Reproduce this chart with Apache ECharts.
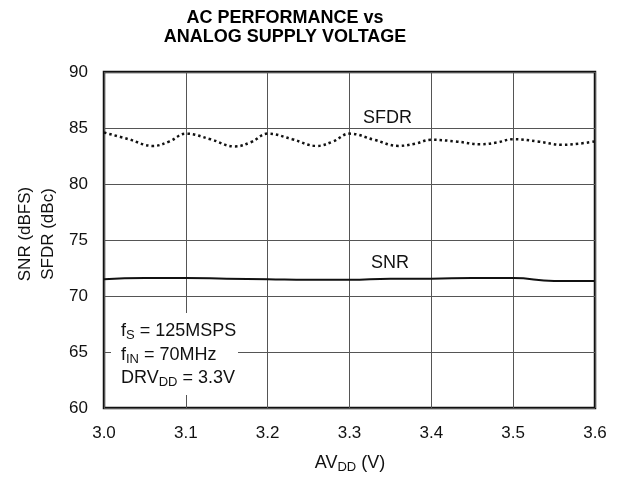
<!DOCTYPE html>
<html>
<head>
<meta charset="utf-8">
<script src="https://cdn.jsdelivr.net/npm/echarts@6/dist/echarts.min.js"></script>
<style>html,body{margin:0;padding:0;background:#fff}#c{width:619px;height:479px}</style>
</head>
<body>
<div id="c"></div>
<script>
// Data
const xTicks = [3.0, 3.1, 3.2, 3.3, 3.4, 3.5, 3.6];
const yTicks = [60, 65, 70, 75, 80, 85, 90];
const sfdrX = [3.00, 3.03, 3.06, 3.08, 3.10, 3.13, 3.16, 3.18, 3.20, 3.23, 3.26, 3.28, 3.30, 3.33, 3.36, 3.38, 3.40, 3.43, 3.46, 3.48, 3.50, 3.53, 3.56, 3.58, 3.60];
const sfdrY = [84.6, 84.0, 83.4, 83.8, 84.5, 84.0, 83.35, 83.75, 84.5, 84.0, 83.4, 83.8, 84.5, 83.95, 83.4, 83.6, 83.95, 83.8, 83.55, 83.7, 84.0, 83.8, 83.5, 83.6, 83.8];
const snrX = [3.00, 3.05, 3.10, 3.15, 3.20, 3.25, 3.30, 3.35, 3.40, 3.45, 3.50, 3.55, 3.60];
const snrY = [71.5, 71.6, 71.6, 71.55, 71.5, 71.45, 71.45, 71.55, 71.55, 71.6, 71.6, 71.35, 71.35];

const FONT = '"Liberation Sans", Arial, Helvetica, sans-serif';
const chart = echarts.init(document.getElementById('c'));
const sub = { fontSize: 13, fontFamily: FONT, color: '#111', padding: [8, 0, 0, 0] };

chart.setOption({
  animation: false,
  backgroundColor: '#fff',
  grid: { left: 104, right: 24, top: 72, bottom: 71, show: true, borderColor: '#111', borderWidth: 2.5, backgroundColor: 'transparent' },
  xAxis: {
    type: 'value', min: xTicks[0], max: xTicks[xTicks.length - 1], interval: 0.1,
    axisLine: { show: false }, axisTick: { show: false },
    splitLine: { show: true, lineStyle: { color: '#555', width: 1 } },
    axisLabel: { margin: 17, fontSize: 17, fontFamily: FONT, color: '#111', formatter: v => v.toFixed(1) }
  },
  yAxis: {
    type: 'value', min: yTicks[0], max: yTicks[yTicks.length - 1], interval: 5,
    axisLine: { show: false }, axisTick: { show: false },
    splitLine: { show: true, lineStyle: { color: '#555', width: 1 } },
    axisLabel: { margin: 16, fontSize: 17, fontFamily: FONT, color: '#111' }
  },
  series: [
    { name: 'SFDR', type: 'line', smooth: 0.4, symbol: 'none', data: sfdrX.map((x, i) => [x, sfdrY[i]]),
      lineStyle: { color: '#111', width: 2.5, type: [2.5, 3] }, z: 5 },
    { name: 'SNR', type: 'line', smooth: true, symbol: 'none', data: snrX.map((x, i) => [x, snrY[i]]),
      lineStyle: { color: '#111', width: 2 }, z: 5 }
  ],
  graphic: [
    { type: 'text', x: 285, y: 9, z: 100, style: { text: 'AC PERFORMANCE vs\nANALOG SUPPLY VOLTAGE', align: 'center', font: 'bold 18px ' + FONT, fill: '#000', lineHeight: 19 } },
    { type: 'rect', shape: { x: 111, y: 313, width: 127, height: 82 }, z: 100, style: { fill: '#fff' } },
    { type: 'text', x: 121, y: 321, z: 101, style: { text: 'f{s|S} = 125MSPS', rich: { s: sub }, font: '18px ' + FONT, fill: '#111' } },
    { type: 'text', x: 121, y: 345, z: 101, style: { text: 'f{s|IN} = 70MHz', rich: { s: sub }, font: '18px ' + FONT, fill: '#111' } },
    { type: 'text', x: 121, y: 368, z: 101, style: { text: 'DRV{s|DD} = 3.3V', rich: { s: sub }, font: '18px ' + FONT, fill: '#111' } },
    { type: 'text', x: 363, y: 109, z: 101, style: { text: 'SFDR', font: '18px ' + FONT, fill: '#111' } },
    { type: 'text', x: 371, y: 254, z: 101, style: { text: 'SNR', font: '18px ' + FONT, fill: '#111' } },
    { type: 'text', x: 350, y: 453, z: 101, style: { text: 'AV{s|DD} (V)', rich: { s: sub }, font: '18px ' + FONT, fill: '#111', align: 'center' } },
    { type: 'text', x: 37, y: 234, rotation: Math.PI / 2, z: 101, style: { text: 'SNR (dBFS)\nSFDR (dBc)', font: '17px ' + FONT, fill: '#111', align: 'center', verticalAlign: 'middle', lineHeight: 23 } }
  ]
});
</script>
</body>
</html>
